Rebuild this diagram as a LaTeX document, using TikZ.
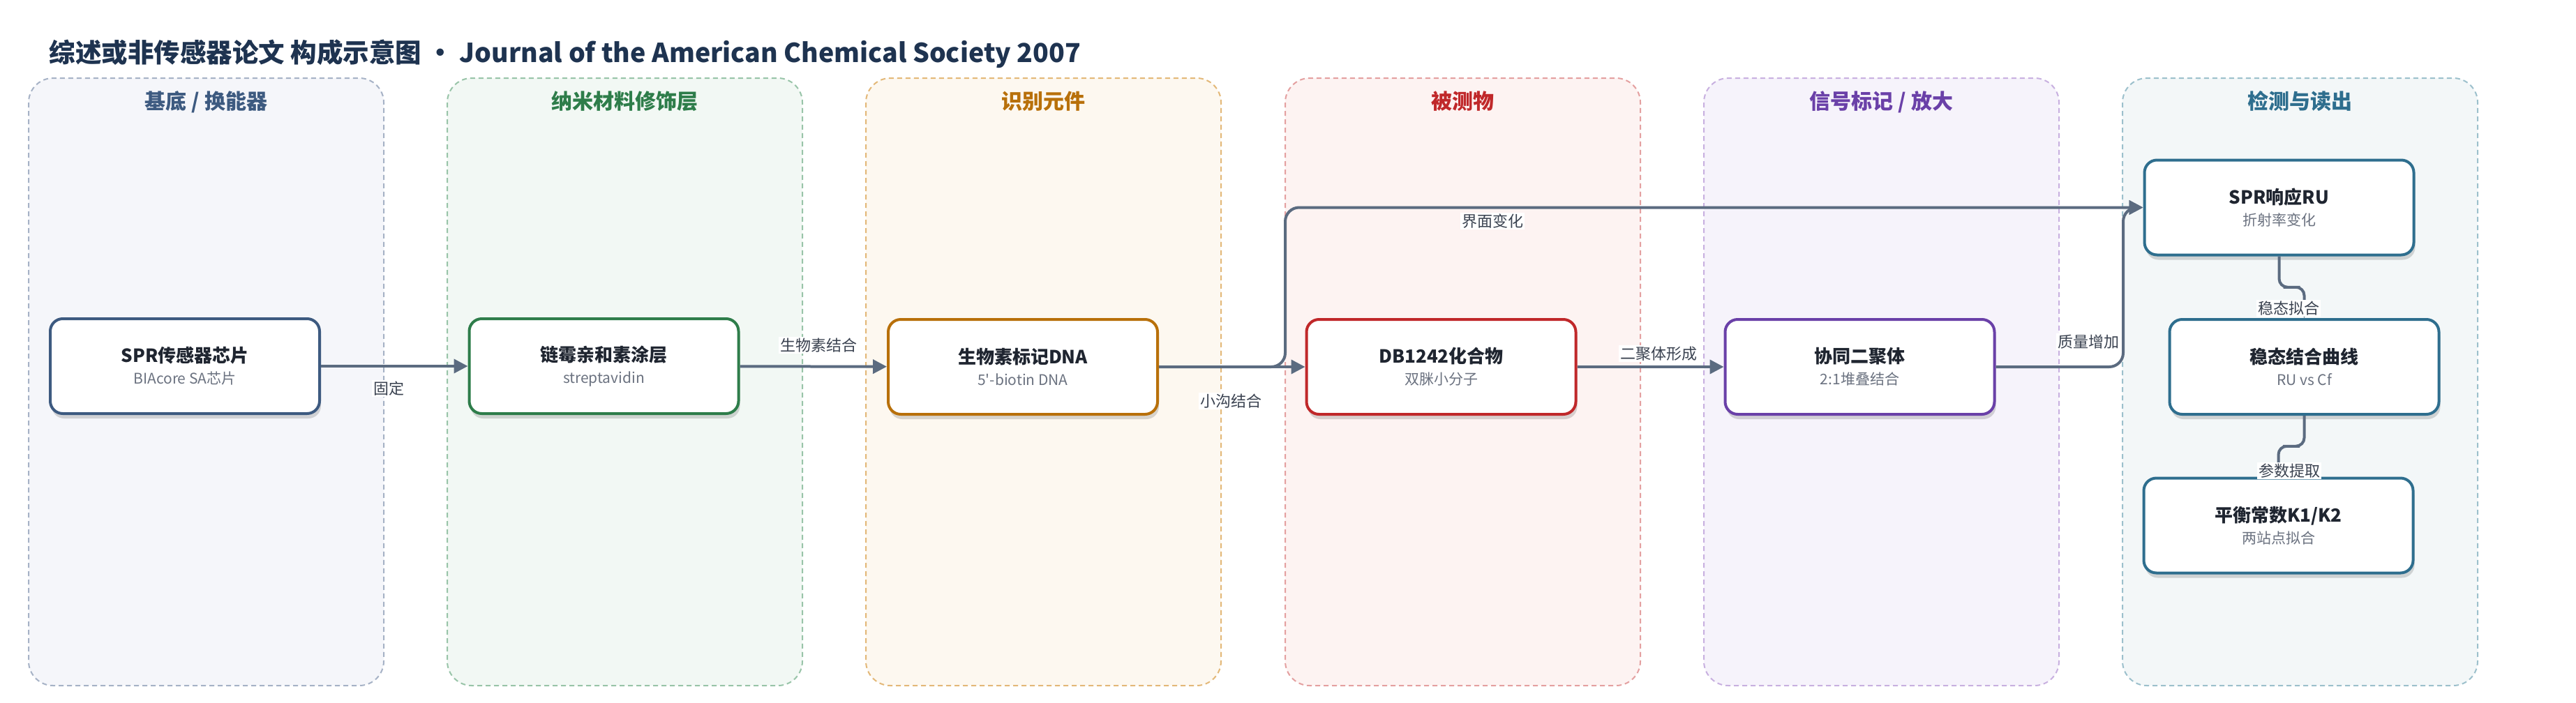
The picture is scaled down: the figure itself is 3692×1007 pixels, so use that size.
\documentclass[tikz,border=0pt]{standalone}
\usepackage{fontspec}
\setmainfont{Noto Sans CJK SC}
\usetikzlibrary{arrows.meta, positioning, calc, shadows}
\definecolor{titlenavy}{RGB}{30, 51, 80}
\definecolor{edgegray}{RGB}{91, 107, 128}
\definecolor{labelgray}{RGB}{58, 66, 80}
\definecolor{subgray}{RGB}{107, 114, 128}
\definecolor{nodeink}{RGB}{31, 37, 48}
\definecolor{laneAtext}{RGB}{61, 90, 128}
\definecolor{laneAedge}{RGB}{166, 178, 198}
\definecolor{laneAfill}{RGB}{245, 246, 250}
\definecolor{laneBtext}{RGB}{46, 125, 74}
\definecolor{laneBedge}{RGB}{152, 196, 168}
\definecolor{laneBfill}{RGB}{242, 248, 244}
\definecolor{laneCtext}{RGB}{184, 112, 10}
\definecolor{laneCedge}{RGB}{227, 184, 120}
\definecolor{laneCfill}{RGB}{253, 248, 240}
\definecolor{laneDtext}{RGB}{192, 40, 42}
\definecolor{laneDedge}{RGB}{228, 160, 160}
\definecolor{laneDfill}{RGB}{253, 243, 242}
\definecolor{laneEtext}{RGB}{106, 64, 168}
\definecolor{laneEedge}{RGB}{200, 176, 224}
\definecolor{laneEfill}{RGB}{246, 243, 251}
\definecolor{laneFtext}{RGB}{46, 110, 142}
\definecolor{laneFedge}{RGB}{156, 192, 204}
\definecolor{laneFfill}{RGB}{243, 247, 248}
\newcommand{\boxlines}[2]{{\bfseries\fontsize{26}{31}\selectfont #1}\\{\color{subgray}#2}}

\begin{document}
\begin{tikzpicture}[x=1pt, y=-1pt,
    lanebox/.style={draw=#1, line width=2pt, dash pattern=on 7pt off 5pt, rounded corners=35pt},
    lanehead/.style={anchor=base, font=\bfseries\fontsize{30}{36}\selectfont},
    box/.style={draw=#1, line width=4pt, fill=white, rounded corners=18pt,
        minimum width=386pt, minimum height=136pt, align=center, text=nodeink,
        font=\fontsize{21}{31}\selectfont,
        drop shadow={shadow xshift=2pt, shadow yshift=-7pt, opacity=0.15, fill=black}},
    flow/.style={draw=edgegray, line width=4pt, -{Triangle[length=20pt, width=20pt]}, rounded corners=20pt},
    tag/.style={fill=white, text=labelgray, font=\fontsize{22}{26}\selectfont, inner sep=2pt}
]
    % Canvas
    \fill[white] (0,0) rectangle (3692,1007);
    \useasboundingbox (0,0) rectangle (3692,1007);

    % Title
    \node[anchor=base west, text=titlenavy, font=\bfseries\fontsize{37.5}{44}\selectfont] (title) at (67,89)
        {综述或非传感器论文 构成示意图 • Journal of the American Chemical Society 2007};

    % Lanes
    \draw[lanebox=laneAedge, fill=laneAfill] (41,112) rectangle (550,983);
    \draw[lanebox=laneBedge, fill=laneBfill] (641,112) rectangle (1150,983);
    \draw[lanebox=laneCedge, fill=laneCfill] (1241,112) rectangle (1750,983);
    \draw[lanebox=laneDedge, fill=laneDfill] (1842,112) rectangle (2351,983);
    \draw[lanebox=laneEedge, fill=laneEfill] (2442,112) rectangle (2951,983);
    \draw[lanebox=laneFedge, fill=laneFfill] (3042,112) rectangle (3551,983);

    \node[lanehead, text=laneAtext] (headA) at (295.5,156) {基底 / 换能器};
    \node[lanehead, text=laneBtext] (headB) at (895.5,156) {纳米材料修饰层};
    \node[lanehead, text=laneCtext] (headC) at (1495.5,156) {识别元件};
    \node[lanehead, text=laneDtext] (headD) at (2096.5,156) {被测物};
    \node[lanehead, text=laneEtext] (headE) at (2696.5,156) {信号标记 / 放大};
    \node[lanehead, text=laneFtext] (headF) at (3296.5,156) {检测与读出};

    % Steps
    \node[box=laneAtext] (chip) at (265,525) {\boxlines{SPR传感器芯片}{BIAcore SA芯片}};
    \node[box=laneBtext] (strep) at (865.5,525) {\boxlines{链霉亲和素涂层}{streptavidin}};
    \node[box=laneCtext] (biodna) at (1466,526) {\boxlines{生物素标记DNA}{5\textquotesingle-biotin DNA}};
    \node[box=laneDtext] (db) at (2065.5,526) {\boxlines{DB1242化合物}{双脒小分子}};
    \node[box=laneEtext] (dimer) at (2665.5,526) {\boxlines{协同二聚体}{2:1堆叠结合}};
    \node[box=laneFtext] (spr) at (3266.5,297.5) {\boxlines{SPR响应RU}{折射率变化}};
    \node[box=laneFtext] (curve) at (3302.5,526) {\boxlines{稳态结合曲线}{RU vs Cf}};
    \node[box=laneFtext] (keq) at (3265.5,753.5) {\boxlines{平衡常数K1/K2}{两站点拟合}};

    % Connectors
    \coordinate (jl) at (1842,297.5);
    \coordinate (jr) at (3043,297.5);
    \draw[flow] (chip) -- (strep);
    \draw[flow] (strep) -- (biodna);
    \draw[flow] (biodna) -- (db);
    \draw[flow] (db) -- (dimer);
    \draw[flow] (biodna.east) -| (jl) -- (spr.west);
    \draw[flow] (dimer.east) -| (jr) -- (spr.west);
    \draw[flow, rounded corners=12pt] (spr.south) |- ($(spr.south)!.5!(curve.north)$) -| (curve.north);
    \draw[flow, rounded corners=12pt] (curve.south) |- ($(curve.south)!.5!(keq.north)$) -| (keq.north);

    % Labels
    \node[tag] (fix) at (557,557) {固定};
    \node[tag] (biotin) at (1173,495) {生物素结合};
    \node[tag] (groove) at (1764,575) {小沟结合};
    \node[tag] (dimerize) at (2377,507) {二聚体形成};
    \node[tag] (iface) at (2139,317) {界面变化};
    \node[tag] (mass) at (2993,490) {质量增加};
    \node[tag] (steady) at (3280,442) {稳态拟合};
    \node[tag] (params) at (3281,675) {参数提取};

\end{tikzpicture}
\end{document}
